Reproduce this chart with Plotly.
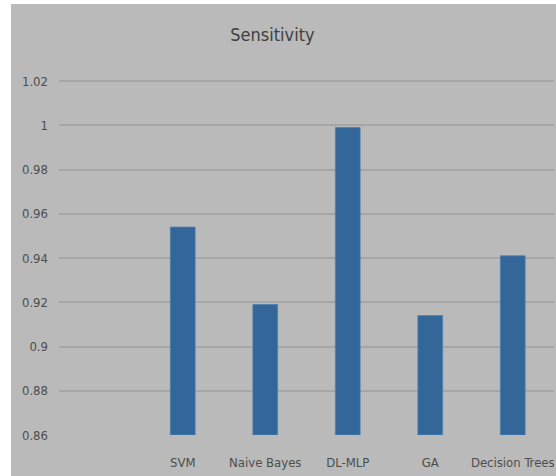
import plotly.graph_objects as go

# Sensitivity per classifier (first slot intentionally left empty)
categories = [" ", "SVM", "Naive Bayes", "DL-MLP", "GA", "Decision Trees"]
sensitivity = [None, 0.954, 0.919, 0.999, 0.914, 0.941]
tick_values = [0.86, 0.88, 0.90, 0.92, 0.94, 0.96, 0.98, 1.00, 1.02]
tick_labels = ["0.86", "0.88", "0.9", "0.92", "0.94", "0.96", "0.98", "1", "1.02"]

FLOOR = 0.86
TOP = 1.0205

W, H = 556, 476
ML, MR, MT, MB = 59, 2, 80, 41
pw = W - ML - MR
ph = H - MT - MB

fig = go.Figure(
    go.Bar(
        x=categories,
        y=[None if v is None else v - FLOOR for v in sensitivity],
        base=FLOOR,
        width=0.3,
        marker=dict(color="#336699", line=dict(color="#4f7fae", width=0.8)),
    )
)

font = "DejaVu Sans Condensed, Liberation Sans Narrow, Arial Narrow, sans-serif"

fig.update_layout(
    width=W,
    height=H,
    margin=dict(l=ML, r=MR, t=MT, b=MB),
    paper_bgcolor="white",
    plot_bgcolor="rgba(0,0,0,0)",
    showlegend=False,
    title=dict(
        text="Sensitivity",
        x=0.49,
        xanchor="center",
        y=1 - 35 / H,
        yanchor="middle",
        font=dict(family=font, size=18, color="#404040"),
    ),
    xaxis=dict(
        type="category",
        showgrid=False,
        showline=False,
        zeroline=False,
        ticks="",
        tickfont=dict(family=font, size=13, color="#4d4d4d"),
        ticklabelstandoff=18,
    ),
    yaxis=dict(
        range=[FLOOR, TOP],
        tickvals=tick_values,
        ticktext=tick_labels,
        showgrid=True,
        gridcolor="#a6a6a6",
        gridwidth=1.5,
        zeroline=False,
        showline=False,
        ticks="",
        tickfont=dict(family=font, size=13, color="#4d4d4d"),
        ticklabelstandoff=10,
    ),
    shapes=[
        dict(
            type="rect",
            xref="paper",
            yref="paper",
            x0=(11 - ML) / pw,
            x1=(W - ML) / pw,
            y0=-MB / ph,
            y1=(H - MB - 4) / ph,
            fillcolor="#bababa",
            line=dict(width=0),
            layer="below",
        )
    ],
)

fig.write_html("out.html")
